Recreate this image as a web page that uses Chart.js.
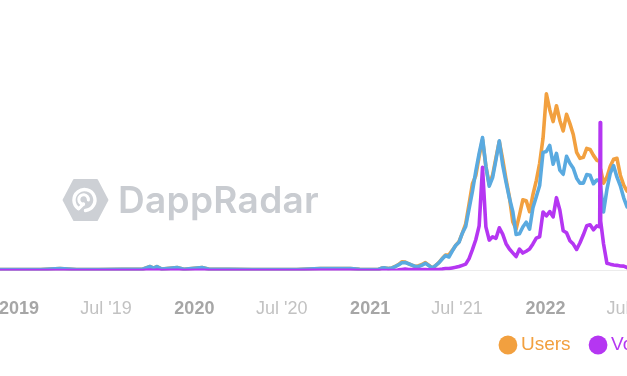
<!DOCTYPE html>
<html>
<head>
<meta charset="utf-8">
<script src="https://cdn.jsdelivr.net/npm/chart.js@4.4.1/dist/chart.umd.min.js"></script>
<style>
  html, body { margin: 0; padding: 0; background: #fff; }
  body { width: 627px; height: 376px; overflow: hidden; position: relative; }
  #wrap { position: absolute; left: -100px; top: 0; width: 947px; height: 376px; }
  #mark { position: absolute; left: 62px; top: 178px; height: 44px; display: flex; align-items: center; }
  #mark span { font-family: Inter, "Open Sans", sans-serif; font-weight: 600; font-size: 37px; color: #c9ccd1; margin-left: 9px; letter-spacing: 0.3px; line-height: 44px; }
</style>
</head>
<body>
<div id="wrap"><canvas id="c"></canvas></div>
<div id="mark">
  <svg width="47" height="42" viewBox="0 0 48 44">
    <polygon points="12,1 36,1 47,22 36,43 12,43 1,22" fill="#cdd0d5" stroke="#cdd0d5" stroke-width="2" stroke-linejoin="round"/>
    <path d="M16.5 31 A11 11 0 1 1 24 33" fill="none" stroke="#fff" stroke-width="3.6" stroke-linecap="round"/>
    <path d="M22 26.5 A5 5 0 1 1 27 22" fill="none" stroke="#fff" stroke-width="3.2" stroke-linecap="round"/>
    <line x1="22" y1="26" x2="17" y2="31" stroke="#fff" stroke-width="3.2" stroke-linecap="round"/>
  </svg>
  <span>DappRadar</span>
</div>
<script>
// ---- data (relative units) ----
const dates = [
  '2018-09-01','2018-11-01','2019-01-01','2019-02-15','2019-03-27','2019-05-01','2019-06-15','2019-08-01','2019-09-15',
  '2019-10-01','2019-10-08','2019-10-15','2019-10-25','2019-11-26','2019-12-10','2020-01-17','2020-02-01','2020-03-15',
  '2020-05-01','2020-06-15','2020-08-01','2020-09-19','2020-10-20','2020-11-21','2020-12-10',
  '2021-01-04','2021-01-11','2021-01-18','2021-01-25','2021-02-01','2021-02-08','2021-02-15','2021-02-22',
  '2021-03-01','2021-03-08','2021-03-15','2021-03-22','2021-03-29','2021-04-05','2021-04-12','2021-04-19','2021-04-26',
  '2021-05-03','2021-05-10','2021-05-17','2021-05-24','2021-05-31','2021-06-07','2021-06-14','2021-06-21','2021-06-28',
  '2021-07-05','2021-07-12','2021-07-19','2021-07-26','2021-08-02','2021-08-09','2021-08-16','2021-08-23','2021-08-30',
  '2021-09-06','2021-09-13','2021-09-20','2021-09-27','2021-10-04','2021-10-11','2021-10-18','2021-10-25',
  '2021-11-01','2021-11-08','2021-11-15','2021-11-22','2021-11-29','2021-12-06','2021-12-13','2021-12-20','2021-12-27',
  '2022-01-03','2022-01-10','2022-01-17','2022-01-24','2022-01-31','2022-02-07','2022-02-14','2022-02-21','2022-02-28',
  '2022-03-07','2022-03-14','2022-03-21','2022-03-28','2022-04-04','2022-04-11','2022-04-18','2022-04-24','2022-04-25',
  '2022-04-26','2022-05-02','2022-05-09','2022-05-16','2022-05-23','2022-05-30','2022-06-06','2022-06-13','2022-06-20'
];
const users = [
  0.5,0.5,0.5,0.5,1.0,0.5,0.5,0.6,0.6,
  2.0,1.2,2.0,0.7,1.5,0.6,1.5,0.6,0.6,
  0.5,0.5,0.5,1.0,1.0,1.0,0.6,
  0.5,0.5,0.5,1.2,1.3,1.0,1.3,2.0,
  3.0,4.4,4.3,3.4,2.7,2.0,2.4,3.0,4.0,
  2.7,1.3,2.4,4.0,6.0,7.8,7.9,10.1,12.6,
  14.5,18.8,23.5,33.5,43.7,47.8,57.5,66.0,52.5,
  43.3,48.0,56.8,65.0,56.0,46.0,37.0,24.6,
  20.8,28.0,35.6,35.2,29.6,38.2,45.3,54.0,66.6,
  89.0,81.0,75.0,83.0,75.6,70.3,78.7,74.0,68.5,
  59.5,56.5,57.0,61.5,61.0,58.0,55.5,55.0,48.0,
  51.0,44.0,47.0,52.5,56.0,56.5,48.0,43.0,40.0
];
const volume = [
  0,0,0,0,0,0,0,0,0,
  0.2,0,0.2,0,0.1,0,0.1,0,0,
  0,0,0,0.1,0.1,0.1,0,
  0,0,0,0,0,0,0,0,
  0.3,0.5,0.7,0.5,0.5,0.5,0.5,0.5,0.5,
  0.4,0.3,0.5,0.5,0.7,1.0,1.0,1.3,1.6,
  2.0,2.6,3.2,6.0,10.5,15.5,22.5,52.0,22.0,
  15.3,17.0,16.2,21.5,18.3,13.5,10.8,8.9,
  7.0,10.8,8.8,9.7,10.8,13.4,16.3,17.0,29.5,
  27.5,29.7,27.0,36.7,30.5,20.0,19.0,15.0,13.3,
  10.6,14.0,18.0,22.5,23.0,20.5,22.5,22.0,74.5,
  25.0,13.5,3.7,3.2,2.8,2.6,2.3,2.2,1.5
];
const transactions = [
  0.5,0.5,0.5,0.5,1.0,0.5,0.5,0.6,0.6,
  2.0,1.2,2.0,0.7,1.5,0.6,1.5,0.6,0.6,
  0.5,0.5,0.5,1.0,1.0,1.0,0.6,
  0.5,0.5,0.5,1.2,1.3,1.0,1.2,2.0,
  2.8,3.9,4.0,3.4,2.7,2.0,2.0,2.7,3.6,
  2.5,1.3,2.4,3.8,5.8,7.5,6.8,9.8,12.6,
  14.2,18.8,22.2,31.0,39.8,50.0,59.0,67.0,52.5,
  42.5,46.8,55.8,65.3,53.2,44.5,36.5,29.8,
  18.2,18.5,21.9,24.3,20.8,31.6,37.2,42.8,59.5,
  60.0,63.0,53.5,59.0,50.6,48.5,57.5,54.0,51.5,
  46.5,44.0,44.0,48.3,48.0,43.7,45.6,45.0,42.5,
  42.0,29.5,40.7,49.0,52.8,47.0,42.7,36.6,32.0
];
const tickDates = ['2018-07-01','2019-01-01','2019-07-01','2020-01-01','2020-07-01','2021-01-01','2021-07-01','2022-01-01','2022-07-01','2023-01-01','2023-07-01'];
const tickLabels = ["Jul '18",'2019',"Jul '19",'2020',"Jul '20",'2021',"Jul '21",'2022',"Jul '22",'2023',"Jul '23"];
const xStart = '2018-04-28';
const xEnd = '2023-09-21';

// ---- helpers ----
const dayOf = s => (Date.parse(s + 'T00:00:00Z') - Date.UTC(2019, 0, 1)) / 864e5;
const series = vals => dates.map((d, i) => ({ x: dayOf(d), y: vals[i] }));
const tickDays = tickDates.map(dayOf);
const isYear = i => !String(tickLabels[i] || '').startsWith('Jul');

const FONT = '"Liberation Sans", Arial, Helvetica, sans-serif';

// let the x tick labels overflow the (short) axis box instead of being clipped
const noLabelClip = {
  id: 'noLabelClip',
  beforeDraw(chart) { chart.scales.x._computeLabelArea = () => undefined; }
};

new Chart(document.getElementById('c'), {
  type: 'line',
  plugins: [noLabelClip],
  data: {
    datasets: [
      { label: 'Users', data: series(users), borderColor: '#f2a03f', backgroundColor: '#f2a03f', order: 2 },
      { label: 'Volume', data: series(volume), borderColor: '#b536f2', backgroundColor: '#b536f2', order: 0 },
      { label: 'Transactions', data: series(transactions), borderColor: '#5aaae0', backgroundColor: '#5aaae0', order: 1 }
    ]
  },
  options: {
    responsive: true,
    maintainAspectRatio: false,
    animation: false,
    layout: { padding: { top: 72, bottom: 11.5, left: 0, right: 0 } },
    elements: {
      point: { radius: 0, hoverRadius: 0 },
      line: { borderWidth: 3.6, tension: 0, borderJoinStyle: 'round', borderCapStyle: 'round' }
    },
    plugins: {
      tooltip: { enabled: false },
      legend: {
        position: 'bottom',
        align: 'end',
        labels: {
          usePointStyle: true,
          pointStyle: 'circle',
          boxWidth: 7,
          boxHeight: 13.3,
          padding: 24,
          font: { family: FONT, size: 19 },
          sort: (a, b) => a.datasetIndex - b.datasetIndex,
          generateLabels: (chart) => {
            const items = Chart.defaults.plugins.legend.labels.generateLabels(chart);
            items.forEach(it => {
              const ds = chart.data.datasets[it.datasetIndex];
              it.fontColor = ds.borderColor;
              it.fillStyle = ds.borderColor;
              it.strokeStyle = ds.borderColor;
              it.lineWidth = 0;
            });
            return items;
          }
        }
      }
    },
    scales: {
      x: {
        type: 'linear',
        min: dayOf(xStart),
        max: dayOf(xEnd),
        grid: { display: false },
        border: { display: true, color: '#ececec', width: 1 },
        afterBuildTicks: (scale) => { scale.ticks = tickDays.map(v => ({ value: v })); },
        afterFit: (scale) => { scale.height = 41; scale.paddingLeft = 0; scale.paddingRight = 0; },
        ticks: {
          autoSkip: false,
          maxRotation: 0,
          padding: 20,
          callback: (v, i) => tickLabels[i],
          font: (c) => ({ family: FONT, size: 18, weight: isYear(c.index) ? 'bold' : 'normal' }),
          color: (c) => isYear(c.index) ? '#a6a6a6' : '#c2c2c2'
        }
      },
      y: { display: false, min: 0, max: 100 }
    }
  }
});
</script>
</body>
</html>
